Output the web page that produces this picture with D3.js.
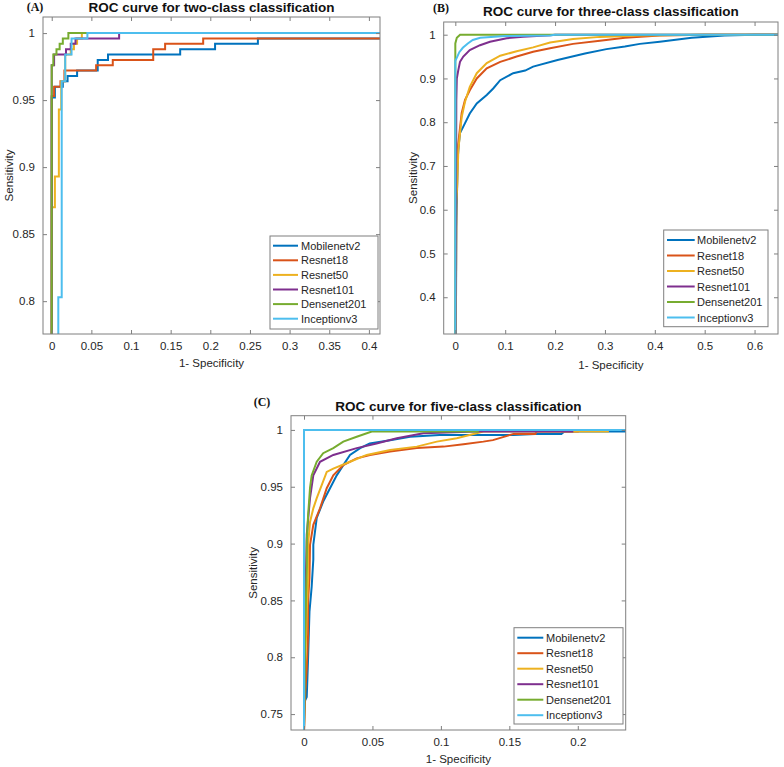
<!DOCTYPE html>
<html><head><meta charset="utf-8">
<script src="https://cdn.jsdelivr.net/npm/d3@7"></script>
<style>
body{margin:0;background:#fff;}
svg{display:block;}
text{font-family:"Liberation Sans",Arial,sans-serif;}
</style></head>
<body>
<svg id="chart" width="784" height="767"></svg>
<script>
// ---------- data ----------
const seriesNames = ["Mobilenetv2","Resnet18","Resnet50","Resnet101","Densenet201","Inceptionv3"];
const seriesColors = ["#0072BD","#D95319","#EDB120","#7E2F8E","#77AC30","#4DBEEE"];

// Panel A (two-class) step points [x, y-after-jump]
const A_Mobilenetv2 = [[0,0.775],[0,0.952],[0.004,0.960],[0.014,0.964],[0.020,0.968],[0.032,0.972],[0.058,0.980],[0.071,0.984],[0.162,0.988],[0.206,0.992],[0.260,0.996],[0.42,0.996]];
const A_Resnet18 = [[0,0.775],[0,0.953],[0.003,0.960],[0.011,0.964],[0.016,0.972],[0.056,0.976],[0.077,0.980],[0.128,0.988],[0.143,0.992],[0.191,0.996],[0.42,0.996]];
const A_Resnet50 = [[0,0.775],[0,0.870],[0.004,0.893],[0.009,0.943],[0.012,0.964],[0.017,0.984],[0.024,0.988],[0.028,0.992],[0.032,0.996],[0.038,1],[0.42,1]];
const A_Resnet101 = [[0,0.775],[0,0.976],[0.003,0.984],[0.018,0.988],[0.024,0.992],[0.030,0.996],[0.085,1],[0.42,1]];
const A_Densenet201 = [[0,0.775],[0,0.976],[0.002,0.984],[0.006,0.988],[0.010,0.992],[0.014,0.996],[0.021,1],[0.42,1]];
const A_Inceptionv3 = [[0.0083,0.775],[0.0083,0.803],[0.0126,0.964],[0.017,0.984],[0.025,0.996],[0.045,1],[0.42,1]];

// Panel B (three-class)
const B_Mobilenetv2 = [[0,0],[0.002,0.56],[0.003,0.62],[0.005,0.72],[0.007,0.75],[0.0094,0.775],[0.016,0.79],[0.029,0.82],[0.043,0.843],[0.063,0.862],[0.076,0.877],[0.09,0.896],[0.116,0.912],[0.14,0.918],[0.156,0.927],[0.205,0.942],[0.26,0.957],[0.303,0.967],[0.34,0.973],[0.37,0.979],[0.41,0.984],[0.474,0.993],[0.54,0.998],[0.6,1],[0.65,1]];
const B_Resnet18 = [[0,0],[0.002,0.64],[0.004,0.72],[0.006,0.752],[0.0128,0.821],[0.0195,0.851],[0.029,0.873],[0.043,0.900],[0.063,0.923],[0.09,0.938],[0.123,0.950],[0.156,0.961],[0.19,0.969],[0.236,0.979],[0.29,0.986],[0.34,0.993],[0.41,0.998],[0.5,1],[0.65,1]];
const B_Resnet50 = [[0,0],[0.002,0.62],[0.004,0.66],[0.006,0.736],[0.0128,0.812],[0.0195,0.847],[0.029,0.881],[0.043,0.912],[0.063,0.935],[0.09,0.952],[0.123,0.962],[0.156,0.971],[0.19,0.982],[0.236,0.99],[0.29,0.995],[0.37,0.998],[0.5,1],[0.65,1]];
const B_Resnet101 = [[0,0],[0.002,0.85],[0.003,0.90],[0.006,0.919],[0.0094,0.938],[0.016,0.95],[0.029,0.965],[0.0495,0.976],[0.0695,0.984],[0.103,0.992],[0.136,0.995],[0.19,0.999],[0.2,1],[0.65,1]];
const B_Densenet201 = [[0,0],[0,0.98],[0.003,0.993],[0.0095,1],[0.65,1]];
const B_Inceptionv3 = [[0,0],[0,0.94],[0.004,0.95],[0.008,0.96],[0.015,0.97],[0.025,0.98],[0.035,0.988],[0.05,0.993],[0.1,0.997],[0.19,0.998],[0.2,1],[0.65,1]];

// Panel C (five-class)
const C_Mobilenetv2 = [[0,0],[0,0.76],[0.002,0.765],[0.003,0.80],[0.004,0.84],[0.0056,0.862],[0.0068,0.886],[0.0068,0.899],[0.0093,0.9226],[0.014,0.937],[0.019,0.9487],[0.0239,0.960],[0.0287,0.969],[0.0336,0.978],[0.041,0.984],[0.048,0.988],[0.0629,0.991],[0.0775,0.994],[0.099,0.9956],[0.153,0.9956],[0.169,0.9965],[0.188,0.9965],[0.19,0.9985],[0.24,0.9985]];
const C_Resnet18 = [[0,0],[0,0.735],[0.001,0.77],[0.002,0.79],[0.003,0.82],[0.003,0.85],[0.004,0.87],[0.0044,0.899],[0.0068,0.9165],[0.0117,0.931],[0.0166,0.9487],[0.0214,0.960],[0.0287,0.969],[0.0385,0.975],[0.0482,0.978],[0.0629,0.981],[0.0824,0.984],[0.102,0.9853],[0.1165,0.9874],[0.131,0.9897],[0.138,0.991],[0.153,0.9965],[0.169,0.9965],[0.17,0.9985],[0.2,0.9985],[0.2,1],[0.24,1]];
const C_Resnet50 = [[0,0],[0,0.735],[0.001,0.80],[0.002,0.84],[0.003,0.87],[0.003,0.899],[0.0044,0.919],[0.0068,0.931],[0.0093,0.94],[0.013,0.9516],[0.0166,0.963],[0.0214,0.966],[0.0336,0.972],[0.0458,0.978],[0.0629,0.9824],[0.0824,0.9853],[0.097,0.9897],[0.1116,0.9927],[0.126,0.997],[0.131,0.9985],[0.222,0.9985],[0.222,1],[0.24,1]];
const C_Resnet101 = [[0,0],[0,0.735],[0.001,0.85],[0.002,0.908],[0.0044,0.94],[0.0068,0.960],[0.0117,0.972],[0.0214,0.978],[0.0385,0.984],[0.053,0.988],[0.0678,0.9927],[0.0872,0.997],[0.126,0.9985],[0.196,0.9985],[0.196,1],[0.24,1]];
const C_Densenet201 = [[0,0],[0,0.735],[0.001,0.83],[0.002,0.88],[0.002,0.902],[0.003,0.925],[0.0044,0.949],[0.0056,0.960],[0.0093,0.972],[0.014,0.9795],[0.0214,0.984],[0.0287,0.9897],[0.0385,0.994],[0.0495,0.9985],[0.127,0.9985],[0.127,1],[0.24,1]];
const C_Inceptionv3 = [[0,0],[0,1],[0.24,1]];

// tick values
const A_xTicks = [0,0.05,0.1,0.15,0.2,0.25,0.3,0.35,0.4];
const A_yTicks = [0.8,0.85,0.9,0.95,1];
const B_xTicks = [0,0.1,0.2,0.3,0.4,0.5,0.6];
const B_yTicks = [0.4,0.5,0.6,0.7,0.8,0.9,1];
const C_xTicks = [0,0.05,0.1,0.15,0.2];
const C_yTicks = [0.75,0.8,0.85,0.9,0.95,1];

const titles = ["ROC curve for two-class classification","ROC curve for three-class classification","ROC curve for five-class classification"];
const tags = ["(A)","(B)","(C)"];
const xLabel = "1- Specificity";
const yLabel = "Sensitivity";

// ---------- layout ----------
const panels = [
  {id:"A", series:[A_Mobilenetv2,A_Resnet18,A_Resnet50,A_Resnet101,A_Densenet201,A_Inceptionv3],
   xd:[-0.011,0.414], yd:[0.7755,1.012], xt:A_xTicks, yt:A_yTicks, curve:d3.curveStepAfter,
   box:{l:43,r:380,t:17,b:334}, title:titles[0], titleY:12, tag:tags[0], tagX:35, tagY:11,
   ylabX:9, xlabY:367,
   leg:{x0:270,x1:378,y0:236,y1:329,ly:245.7,dy:14.6,lx0:273,lx1:298,tx:301}},
  {id:"B", series:[B_Mobilenetv2,B_Resnet18,B_Resnet50,B_Resnet101,B_Densenet201,B_Inceptionv3],
   xd:[-0.0233,0.647], yd:[0.316,1.029], xt:B_xTicks, yt:B_yTicks, curve:d3.curveLinear,
   box:{l:443.7,r:778,t:22,b:334}, title:titles[1], titleY:16, tag:tags[1], tagX:441, tagY:12,
   ylabX:413, xlabY:369,
   leg:{x0:663.7,x1:768,y0:230,y1:326.7,ly:240,dy:15.5,lx0:667,lx1:694.7,tx:697}},
  {id:"C", series:[C_Mobilenetv2,C_Resnet18,C_Resnet50,C_Resnet101,C_Densenet201,C_Inceptionv3],
   xd:[-0.0095,0.235], yd:[0.736,1.0125], xt:C_xTicks, yt:C_yTicks, curve:d3.curveLinear,
   box:{l:291,r:625.7,t:415.7,b:730}, title:titles[2], titleY:411, tag:tags[2], tagX:262, tagY:406,
   ylabX:253, xlabY:763,
   leg:{x0:514,x1:623,y0:627.7,y1:724,ly:637.7,dy:15.5,lx0:517.3,lx1:543.3,tx:546}}
];

const svg = d3.select("#chart");
const axisColor = "#7f7f7f";
const fmt = v => String(+v.toFixed(2));

panels.forEach(p => {
  const b = p.box;
  const x = d3.scaleLinear().domain(p.xd).range([b.l,b.r]);
  const y = d3.scaleLinear().domain(p.yd).range([b.b,b.t]);
  const g = svg.append("g");

  g.append("rect").attr("x",b.l).attr("y",b.t).attr("width",b.r-b.l).attr("height",b.b-b.t).attr("fill","#fff");

  const clipId = "clip"+p.id;
  g.append("clipPath").attr("id",clipId).append("rect")
    .attr("x",b.l).attr("y",b.t).attr("width",b.r-b.l).attr("height",b.b-b.t);

  const line = d3.line().x(d=>x(d[0])).y(d=>y(d[1])).curve(p.curve);
  const lines = g.append("g").attr("clip-path",`url(#${clipId})`);
  p.series.forEach((s,i) => {
    lines.append("path").attr("d",line(s)).attr("fill","none")
      .attr("stroke",seriesColors[i]).attr("stroke-width",2).attr("stroke-linejoin","miter");
  });

  // axes (ticks inward on all four sides)
  const tl = 4;
  const bottom = g.append("g").attr("transform",`translate(0,${b.b})`)
    .call(d3.axisBottom(x).tickValues(p.xt).tickSizeInner(-tl).tickSizeOuter(0).tickPadding(8).tickFormat(fmt));
  const top = g.append("g").attr("transform",`translate(0,${b.t})`)
    .call(d3.axisTop(x).tickValues(p.xt).tickSizeInner(-tl).tickSizeOuter(0).tickFormat(""));
  const left = g.append("g").attr("transform",`translate(${b.l},0)`)
    .call(d3.axisLeft(y).tickValues(p.yt).tickSizeInner(-tl).tickSizeOuter(0).tickPadding(8).tickFormat(fmt));
  const right = g.append("g").attr("transform",`translate(${b.r},0)`)
    .call(d3.axisRight(y).tickValues(p.yt).tickSizeInner(-tl).tickSizeOuter(0).tickFormat(""));
  [bottom,top,left,right].forEach(a => {
    a.select(".domain").remove();
    a.selectAll(".tick line").attr("stroke",axisColor);
    a.selectAll(".tick text").attr("fill","#262626").style("font-size","11.5px")
      .style("font-family",'"Liberation Sans",Arial,sans-serif');
  });
  g.append("rect").attr("x",b.l).attr("y",b.t).attr("width",b.r-b.l).attr("height",b.b-b.t)
    .attr("fill","none").attr("stroke",axisColor).attr("stroke-width",1);

  // labels
  const cx = (b.l+b.r)/2, cy = (b.t+b.b)/2;
  g.append("text").attr("x",cx).attr("y",p.xlabY).attr("text-anchor","middle")
    .style("font-size","11.5px").attr("fill","#262626").text(xLabel);
  g.append("text").attr("transform",`translate(${p.ylabX+4},${cy}) rotate(-90)`).attr("text-anchor","middle")
    .style("font-size","11.5px").attr("fill","#262626").text(yLabel);
  g.append("text").attr("x",cx).attr("y",p.titleY).attr("text-anchor","middle")
    .style("font-size","13.5px").style("font-weight","bold").attr("fill","#111").text(p.title);
  g.append("text").attr("x",p.tagX).attr("y",p.tagY).attr("text-anchor","middle")
    .style("font-size","12px").style("font-weight","bold").style("font-family",'"Liberation Serif","Times New Roman",serif')
    .attr("fill","#111").text(p.tag);

  // legend
  const L = p.leg;
  g.append("rect").attr("x",L.x0).attr("y",L.y0).attr("width",L.x1-L.x0).attr("height",L.y1-L.y0)
    .attr("fill","#fff").attr("stroke",axisColor).attr("stroke-width",1);
  seriesNames.forEach((n,i) => {
    const yy = L.ly + i*L.dy;
    g.append("line").attr("x1",L.lx0).attr("x2",L.lx1).attr("y1",yy).attr("y2",yy)
      .attr("stroke",seriesColors[i]).attr("stroke-width",2);
    g.append("text").attr("x",L.tx).attr("y",yy+4).style("font-size","11px").attr("fill","#262626").text(n);
  });
});
</script>
</body></html>
